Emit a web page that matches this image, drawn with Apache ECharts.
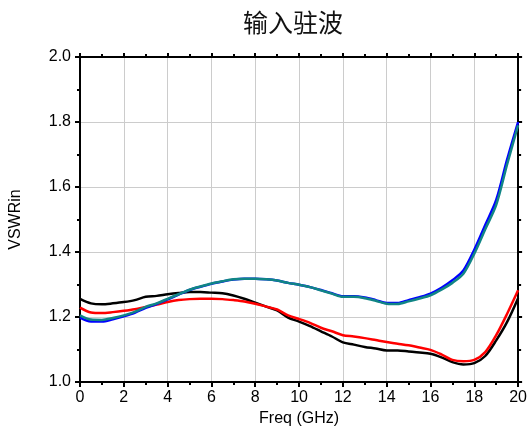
<!DOCTYPE html>
<html>
<head>
<meta charset="utf-8">
<script src="https://cdn.jsdelivr.net/npm/echarts@6/dist/echarts.min.js"></script>
<style>
  html, body { margin: 0; padding: 0; background: #fff; }
  #chartmain { width: 530px; height: 438px; }
</style>
</head>
<body>
<div id="chartmain"></div>
<script>
// frequency points (GHz), 0.5 GHz step
var freq = [0, 0.5, 1, 1.5, 2, 2.5, 3, 3.5, 4, 4.5, 5, 5.5, 6, 6.5, 7, 7.5, 8, 8.5, 9, 9.5, 10,
            10.5, 11, 11.5, 12, 12.5, 13, 13.5, 14, 14.5, 15, 15.5, 16, 16.5, 17, 17.5, 18, 18.5, 19, 19.5, 20];

var vswrBlack = [1.256, 1.242, 1.239, 1.242, 1.246, 1.252, 1.262, 1.265, 1.270, 1.274, 1.277, 1.277, 1.275, 1.273, 1.266, 1.256, 1.244, 1.232, 1.220, 1.198, 1.186,
                 1.172, 1.156, 1.140, 1.122, 1.115, 1.108, 1.103, 1.097, 1.097, 1.094, 1.091, 1.087, 1.076, 1.061, 1.054, 1.058, 1.080, 1.128, 1.185, 1.258];

var vswrRed = [1.229, 1.214, 1.212, 1.215, 1.219, 1.224, 1.231, 1.238, 1.246, 1.252, 1.255, 1.256, 1.256, 1.255, 1.252, 1.248, 1.241, 1.232, 1.223, 1.205, 1.194,
               1.182, 1.167, 1.156, 1.144, 1.140, 1.135, 1.129, 1.123, 1.118, 1.113, 1.106, 1.099, 1.085, 1.068, 1.064, 1.068, 1.092, 1.144, 1.210, 1.282];

var vswrTeal = [1.205, 1.192, 1.191, 1.197, 1.205, 1.216, 1.231, 1.242, 1.256, 1.270, 1.284, 1.294, 1.303, 1.310, 1.316, 1.318, 1.318, 1.316, 1.312, 1.305, 1.299,
                1.292, 1.282, 1.272, 1.262, 1.262, 1.258, 1.250, 1.241, 1.240, 1.248, 1.257, 1.267, 1.284, 1.305, 1.333, 1.395, 1.470, 1.545, 1.670, 1.790];

var vswrBlue = [1.198, 1.186, 1.186, 1.193, 1.202, 1.213, 1.228, 1.240, 1.254, 1.269, 1.283, 1.293, 1.302, 1.309, 1.315, 1.318, 1.318, 1.316, 1.312, 1.305, 1.299,
                1.292, 1.283, 1.273, 1.264, 1.264, 1.260, 1.252, 1.243, 1.243, 1.252, 1.261, 1.272, 1.290, 1.313, 1.343, 1.407, 1.483, 1.560, 1.685, 1.800];

function pairs(ys) {
    return freq.map(function (f, i) { return [f, ys[i]]; });
}

function line(name, color, ys) {
    return {
        name: name,
        type: 'line',
        xAxisIndex: 0,
        yAxisIndex: 0,
        showSymbol: false,
        smooth: 0.3,
        lineStyle: { color: color, width: 2.5 },
        data: pairs(ys)
    };
}

var axisFont = { fontFamily: 'Liberation Sans', fontSize: 16, color: '#000' };
var nameFont = { fontFamily: 'Liberation Sans', fontSize: 16, color: '#000' };
var blackLine = { color: '#000', width: 2 };
var gridLine = { color: '#cccccc', width: 1 };

// extra axis that only draws ticks (mirrored sides and minor ticks)
function tickAxis(pos, min, max, step, len, showLine) {
    return {
        type: 'value', min: min, max: max, interval: step, position: pos,
        axisLine: { show: showLine, onZero: false, lineStyle: blackLine },
        axisTick: { show: true, length: len, lineStyle: blackLine },
        axisLabel: { show: false },
        splitLine: { show: false },
        minorTick: { show: false },
        minorSplitLine: { show: false }
    };
}

var option = {
    animation: false,
    title: {
        text: '输入驻波',
        left: 288,
        top: 5,
        textAlign: 'center',
        textStyle: { fontFamily: 'Noto Sans CJK SC', fontWeight: 'normal', fontSize: 25, color: '#111' }
    },
    grid: { left: 80, right: 8, top: 57, bottom: 56 },
    xAxis: [
        {
            type: 'value', min: 0, max: 20, interval: 2,
            name: 'Freq (GHz)', nameLocation: 'middle', nameGap: 26,
            nameTextStyle: nameFont,
            axisLine: { show: true, onZero: false, lineStyle: blackLine },
            axisTick: { show: true, length: 5, lineStyle: blackLine },
            axisLabel: Object.assign({ margin: 8 }, axisFont),
            splitLine: { show: true, lineStyle: gridLine }
        },
        tickAxis('top', 0, 20, 2, 4, true),
        tickAxis('bottom', 0, 20, 1, 3, false),
        tickAxis('top', 0, 20, 1, 3, false)
    ],
    yAxis: [
        {
            type: 'value', min: 1.0, max: 2.0, interval: 0.2,
            name: 'VSWRin', nameLocation: 'middle', nameGap: 56,
            nameTextStyle: nameFont,
            axisLine: { show: true, onZero: false, lineStyle: blackLine },
            axisTick: { show: true, length: 5, lineStyle: blackLine },
            axisLabel: Object.assign({ margin: 9, formatter: function (v) { return v.toFixed(1); } }, axisFont),
            splitLine: { show: true, lineStyle: gridLine }
        },
        tickAxis('right', 1.0, 2.0, 0.2, 4, true),
        tickAxis('left', 1.0, 2.0, 0.1, 3, false),
        tickAxis('right', 1.0, 2.0, 0.1, 3, false)
    ],
    series: [
        line('black', '#000000', vswrBlack),
        line('red', '#ff0000', vswrRed),
        line('blue', '#0000ff', vswrBlue),
        line('teal', '#108585', vswrTeal)
    ]
};

var myChart = echarts.init(document.getElementById('chartmain'));
myChart.setOption(option);
</script>
</body>
</html>
